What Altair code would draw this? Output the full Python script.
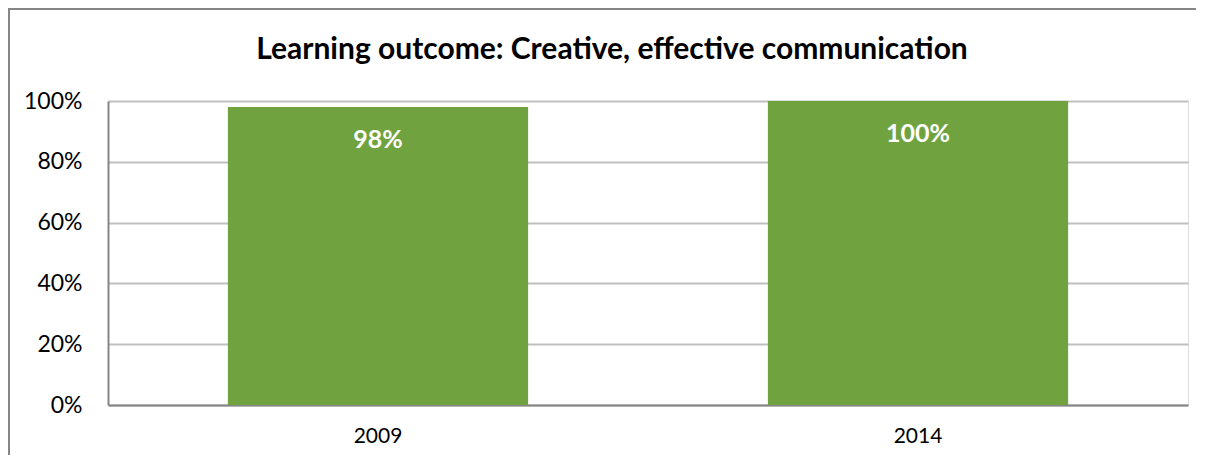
import altair as alt
import pandas as pd

years = ["2009", "2014"]
shares = [0.98, 1.00]
labels = ["98%", "100%"]
title_text = ["Learning outcome: Creative, effective communication"]

df = pd.DataFrame({"year": years, "share": shares, "label": labels})
tdf = pd.DataFrame({"t": title_text})

FONT = "Lato"
GREEN = "#70A340"

x = alt.X("year:N", sort=years,
          scale=alt.Scale(paddingInner=0.444, paddingOuter=0.222),
          axis=alt.Axis(title=None, labelAngle=0, labelFontSize=21, labelFont=FONT,
                        labelColor="#000000", labelPadding=20, ticks=False,
                        domainColor="#868686", domainWidth=2))
y = alt.Y("share:Q", scale=alt.Scale(domain=[0, 1], nice=False),
          axis=alt.Axis(title=None, format=".0%", values=[0, 0.2, 0.4, 0.6, 0.8, 1.0],
                        labelFontSize=23, labelFont=FONT, labelColor="#000000",
                        labelPadding=26, ticks=False, domainColor="#868686", domainWidth=2,
                        gridColor="#BFBFBF", gridWidth=2))

bars = alt.Chart(df).mark_bar(color=GREEN).encode(x=x, y=y)
text = alt.Chart(df).mark_text(color="white", fontWeight="bold", fontSize=25, font=FONT,
                               baseline="middle", dy=33).encode(
    x=alt.X("year:N", sort=years), y="share:Q", text="label:N")

title = alt.Chart(tdf).mark_text(font=FONT, fontSize=30, fontWeight="bold", color="#000000",
                                 align="center", baseline="alphabetic").encode(
    x=alt.value(504), y=alt.value(-42), text="t:N")

border_top = alt.Chart(tdf).mark_rule(color="#868686", strokeWidth=2).encode(
    x=alt.value(-100), x2=alt.value(1088), y=alt.value(-92), y2=alt.value(-92))
border_left = alt.Chart(tdf).mark_rule(color="#868686", strokeWidth=2).encode(
    x=alt.value(-99), x2=alt.value(-99), y=alt.value(-93), y2=alt.value(380))

chart = alt.layer(bars, text, title, border_top, border_left).properties(
    width=1080, height=304,
    autosize=alt.AutoSizeParams(type="none"),
    padding={"left": 100, "top": 93, "right": 16, "bottom": 50},
).configure_view(stroke=None).configure(background="white")

chart.save("out.html", embed_options={"renderer": "svg", "actions": False})
